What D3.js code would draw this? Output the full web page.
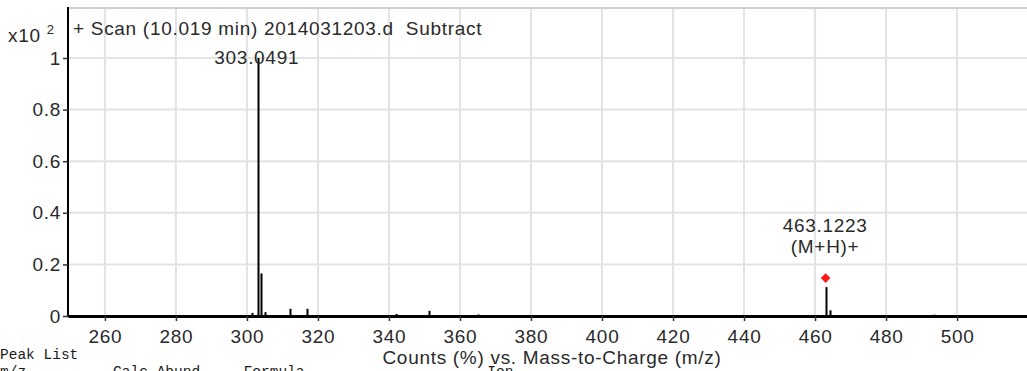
<!DOCTYPE html>
<html>
<head>
<meta charset="utf-8">
<script src="https://cdn.jsdelivr.net/npm/d3@7"></script>
<style>
  html, body { margin: 0; padding: 0; background: #fff; }
  svg { display: block; }
</style>
</head>
<body>
<svg id="chart" width="1027" height="371"></svg>
<script>
// Mass spectrum: m/z and relative abundance (x10^2 counts, %)
const peakMz = [289.0, 301.3, 303.0491, 304.05, 305.05, 312.2, 317.0, 333.0, 339.1, 342.0, 351.3, 365.0, 373.2, 387.0, 463.1223, 464.3, 493.6];
const peakAbund = [0.004, 0.012, 1.0, 0.165, 0.015, 0.028, 0.028, 0.004, 0.004, 0.008, 0.02, 0.006, 0.004, 0.004, 0.112, 0.022, 0.005];

const xTicks = [260, 280, 300, 320, 340, 360, 380, 400, 420, 440, 460, 480, 500];
const yTicks = [0, 0.2, 0.4, 0.6, 0.8, 1];

// Labelled peaks
const labelMz = [303.0491, 463.1223];
const labelText = [["303.0491"], ["463.1223", "(M+H)+"]];
const markedMz = [463.1223];

const svg = d3.select("#chart");
const plotL = 68, plotR = 1027, plotT = 7, plotB = 316;

const x = d3.scaleLinear().domain([249.6, 519.7]).range([plotL, plotR]);
const y = d3.scaleLinear().domain([0, 1]).range([plotB, 58]);

const font = "'Liberation Sans', Arial, sans-serif";
const mono = "'Liberation Mono', 'DejaVu Sans Mono', monospace";
const textCol = "#2a2a2a";
const fs = 19;
const ls = "0.7px";

// grid
svg.append("g").selectAll("line").data(xTicks).join("line")
  .attr("x1", d => x(d)).attr("x2", d => x(d))
  .attr("y1", plotT).attr("y2", plotB)
  .attr("stroke", "#e3e3e3").attr("stroke-width", 2);
svg.append("g").selectAll("line").data(yTicks.filter(d => d > 0)).join("line")
  .attr("x1", plotL).attr("x2", plotR)
  .attr("y1", d => y(d)).attr("y2", d => y(d))
  .attr("stroke", "#e3e3e3").attr("stroke-width", 2);

// top frame
svg.append("line").attr("x1", plotL).attr("x2", plotR).attr("y1", plotT + 1).attr("y2", plotT + 1)
  .attr("stroke", "#cfcfcf").attr("stroke-width", 2);

// peaks (sticks)
svg.append("g").selectAll("line").data(peakMz).join("line")
  .attr("x1", d => Math.round(x(d)) + 0.5).attr("x2", d => Math.round(x(d)) + 0.5)
  .attr("y1", plotB).attr("y2", (d, i) => y(peakAbund[i]))
  .attr("stroke", "#000").attr("stroke-width", 2);

// axes
const xAxis = d3.axisBottom(x).tickValues(xTicks).tickSize(5).tickSizeOuter(0).tickFormat(d3.format("d"));
const gx = svg.append("g").attr("transform", `translate(0,${plotB})`).call(xAxis);
gx.select(".domain").attr("stroke", "#000").attr("stroke-width", 3);
gx.selectAll(".tick line").attr("stroke", "#333").attr("stroke-width", 1.5);
gx.selectAll(".tick text").attr("font-family", font).attr("font-size", fs)
  .attr("letter-spacing", ls)
  .attr("fill", textCol).attr("y", 8).attr("dy", "1.0em");

const yAxis = d3.axisLeft(y).tickValues(yTicks).tickSize(5).tickSizeOuter(0)
  .tickFormat(d => d === 0 ? "0" : d === 1 ? "1" : d3.format(".1f")(d));
const gy = svg.append("g").attr("transform", `translate(${plotL},0)`).call(yAxis);
gy.select(".domain").attr("d", `M0,${plotT}V${plotB + 1}`).attr("stroke", "#000").attr("stroke-width", 2);
gy.selectAll(".tick line").attr("stroke", "#333").attr("stroke-width", 1.5);
gy.selectAll(".tick text").attr("font-family", font).attr("font-size", fs)
  .attr("letter-spacing", ls)
  .attr("fill", textCol).attr("x", -7);

// scale factor
const sf = svg.append("text").attr("x", 8).attr("y", 42)
  .attr("font-family", font).attr("font-size", fs).attr("fill", textCol)
  .attr("letter-spacing", ls);
sf.append("tspan").text("x10 ");
sf.append("tspan").attr("font-size", 13).attr("dy", -8).text("2");

// title
svg.append("text").attr("x", 73).attr("y", 35)
  .attr("font-family", font).attr("font-size", fs).attr("fill", textCol)
  .attr("letter-spacing", ls)
  .attr("xml:space", "preserve")
  .text("+ Scan (10.019 min) 2014031203.d  Subtract");

// peak labels
labelMz.forEach((m, i) => {
  const idx = peakMz.indexOf(m);
  const topY = y(peakAbund[idx]);
  const lines = labelText[i];
  const baseY = i === 0 ? topY + 6 : topY - 55;
  lines.forEach((t, j) => {
    svg.append("text").attr("x", x(m) - 1).attr("y", baseY + j * 20.5)
      .attr("text-anchor", "middle")
      .attr("font-family", font).attr("font-size", fs).attr("fill", textCol)
      .attr("letter-spacing", ls)
      .text(t);
  });
});

// marker above the molecular ion
markedMz.forEach(m => {
  const idx = peakMz.indexOf(m);
  svg.append("path")
    .attr("d", d3.symbol().type(d3.symbolDiamond2).size(60))
    .attr("transform", `translate(${x(m) - 0.5},${y(peakAbund[idx]) - 9})`)
    .attr("fill", "#ff1a1a");
});

// x axis title
svg.append("text").attr("x", 552).attr("y", 364).attr("text-anchor", "middle")
  .attr("font-family", font).attr("font-size", fs).attr("fill", textCol)
  .attr("letter-spacing", ls)
  .text("Counts (%) vs. Mass-to-Charge (m/z)");

// peak list header (continues below)
svg.append("text").attr("x", 0).attr("y", 359)
  .attr("font-family", mono)
  .attr("font-size", 14.5).attr("fill", "#1a1a1a").text("Peak List");
svg.append("text").attr("x", 0).attr("y", 376)
  .attr("font-family", mono)
  .attr("font-size", 14.5).attr("fill", "#1a1a1a")
  .attr("xml:space", "preserve")
  .text("m/z          Calc Abund     Formula                     Ion");
</script>
</body>
</html>
